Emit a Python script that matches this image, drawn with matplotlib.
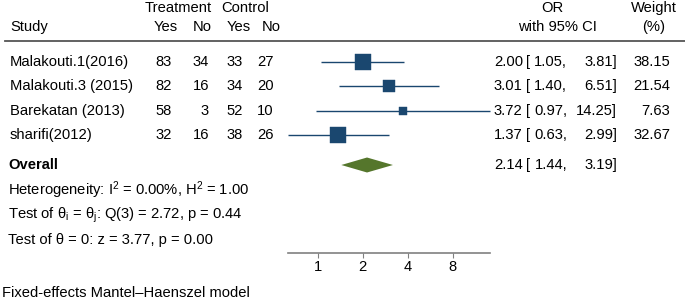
import numpy as np
import matplotlib.pyplot as plt
from matplotlib.lines import Line2D

plt.rcParams["font.family"] = ["Liberation Sans", "DejaVu Sans"]
plt.rcParams["mathtext.fontset"] = "custom"
plt.rcParams["mathtext.rm"] = "Liberation Sans"
plt.rcParams["mathtext.it"] = "Liberation Sans"

# data
studies = ["Malakouti.1(2016)", "Malakouti.3 (2015)", "Barekatan (2013)", "sharifi(2012)"]
treat_yes = [83, 82, 58, 32]
treat_no = [34, 16, 3, 16]
ctrl_yes = [33, 34, 52, 38]
ctrl_no = [27, 20, 10, 26]
odds = [2.00, 3.01, 3.72, 1.37]
ci_lo = [1.05, 1.40, 0.97, 0.63]
ci_hi = [3.81, 6.51, 14.25, 2.99]
weights = [38.15, 21.54, 7.63, 32.67]
overall = (2.14, 1.44, 3.19)
ticks = [1, 2, 4, 8]

W, H = 685, 300
navy = "#1a476f"
green = "#55762c"
fs = 10.6

fig = plt.figure(figsize=(W / 100, H / 100), dpi=100)

def ftext(px, py, s, **kw):
    fig.text(px / W, 1 - py / H, s, fontsize=kw.pop("fontsize", fs), va="center", **kw)

# forest panel: y in pixel rows, axis line at bottom
ax_x0, ax_x1, ax_y = 287.7, 490, 252.5
ax = fig.add_axes([ax_x0 / W, 1 - ax_y / H, (ax_x1 - ax_x0) / W, ax_y / H])
ax.set_xscale("log", base=2)
ax.set_xlim(min(ci_lo), max(ci_hi))
ax.set_ylim(ax_y, 0)
for s in ["top", "left", "right"]:
    ax.spines[s].set_visible(False)
ax.spines["bottom"].set_color("#808080")
ax.spines["bottom"].set_linewidth(1.2)
ax.set_yticks([])
ax.set_xticks(ticks)
ax.set_xticklabels([str(t) for t in ticks], fontsize=fs)
ax.xaxis.set_minor_locator(plt.NullLocator())
ax.tick_params(axis="x", length=3.5, width=0.8, color="#808080", pad=2)
ax.patch.set_alpha(0)

row_y = [62, 86, 110.5, 135]
over_y = 165

for i in range(len(studies)):
    y = row_y[i]
    ax.plot([ci_lo[i], ci_hi[i]], [y, y], color=navy, lw=1.0, clip_on=False,
            solid_capstyle="butt")
    side = 2.7 * np.sqrt(weights[i]) * 0.72
    ax.plot(odds[i], y, marker="s", ms=side, color=navy, mec=navy, mew=0.3,
            clip_on=False)

# overall diamond
o, lo, hi = overall
ax.fill([lo, o, hi, o], [over_y, over_y - 7.5, over_y, over_y + 7.5],
        color=green, lw=0, clip_on=False)

# header
ftext(178, 8, "Treatment", ha="center")
ftext(245, 8, "Control", ha="center")
ftext(10, 27, "Study", ha="left")
ftext(178, 27, "Yes", ha="right")
ftext(212, 27, "No", ha="right")
ftext(251, 27, "Yes", ha="right")
ftext(281, 27, "No", ha="right")
ftext(552, 8, "OR", ha="center")
ftext(557, 27, "with 95% CI", ha="center")
ftext(654, 8, "Weight", ha="center")
ftext(654, 27, "(%)", ha="center")
fig.add_artist(Line2D([5 / W, 1], [1 - 41 / H] * 2, color="#555555", lw=1.3))

# rows
def ci_cols(y, est, l, h):
    ftext(494, y, f"{est:.2f}", ha="left")
    ftext(526, y, "[", ha="left")
    ftext(567, y, f"{l:.2f},", ha="right")
    ftext(617, y, f"{h:.2f}]", ha="right")

for i in range(len(studies)):
    y = row_y[i]
    ftext(10, y, studies[i], ha="left")
    ftext(172, y, str(treat_yes[i]), ha="right")
    ftext(209, y, str(treat_no[i]), ha="right")
    ftext(243, y, str(ctrl_yes[i]), ha="right")
    ftext(274, y, str(ctrl_no[i]), ha="right")
    ci_cols(y, odds[i], ci_lo[i], ci_hi[i])
    ftext(670, y, f"{weights[i]:.2f}", ha="right")

ftext(8, over_y, "Overall", ha="left", fontweight="bold")
ci_cols(over_y, o, lo, hi)

ftext(8, 190, r"Heterogeneity: I$^\mathrm{2}$ = 0.00%, H$^\mathrm{2}$ = 1.00", ha="left")
ftext(8, 215, r"Test of θ$_\mathrm{i}$ = θ$_\mathrm{j}$: Q(3) = 2.72, p = 0.44", ha="left")
ftext(8, 240, "Test of θ = 0: z = 3.77, p = 0.00", ha="left")
ftext(2, 293, "Fixed-effects Mantel\u2013Haenszel model", ha="left")

fig.savefig("out.png", dpi=100)
